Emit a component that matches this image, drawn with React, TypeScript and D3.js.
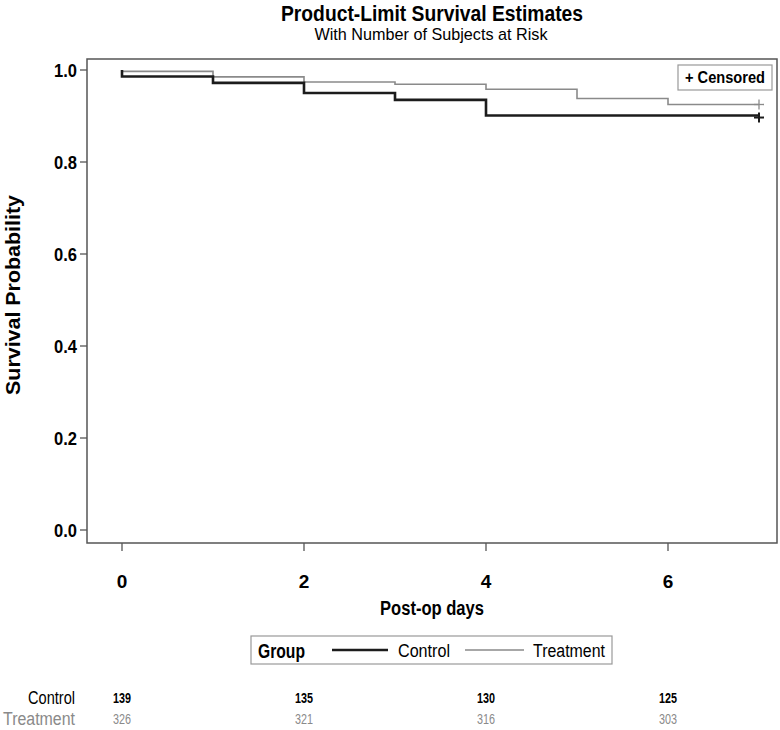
import React from "react";
import * as d3 from "d3";

// Kaplan-Meier step values
const days = [0, 1, 2, 3, 4, 5, 6, 7];
const controlSurv = [0.986, 0.972, 0.95, 0.935, 0.901, 0.901, 0.901, 0.901];
const treatmentSurv = [0.997, 0.985, 0.974, 0.969, 0.958, 0.938, 0.925, 0.925];

// number at risk table
const riskDays = [0, 2, 4, 6];
const controlRisk = [139, 135, 130, 125];
const treatmentRisk = [326, 321, 316, 303];

const yTicks = [0, 0.2, 0.4, 0.6, 0.8, 1.0];
const xTicks = [0, 2, 4, 6];

const W = 780, H = 730;
const frame = { left: 87, right: 777, top: 59, bottom: 543 };
const FONT = "'Liberation Sans', Arial, sans-serif";
const CONTROL_COLOR = "#1c1c1c";
const TREAT_COLOR = "#8a8a8a";

// the original uses a condensed font; squeeze text to the measured widths
const fit = (len: number) => ({ textLength: len, lengthAdjust: "spacingAndGlyphs" as const });

export default function App() {
  const x = d3.scaleLinear().domain([0, 7]).range([122, 759]);
  const y = d3.scaleLinear().domain([0, 1]).range([530, 70]);

  const line = d3.line<[number, number]>()
    .x(d => x(d[0]))
    .y(d => y(d[1]))
    .curve(d3.curveStepAfter);

  // curves start at 1.0 at time 0 then drop
  const controlPts: [number, number][] = [[0, 1], ...days.map((d, i) => [d, controlSurv[i]] as [number, number])];
  const treatPts: [number, number][] = [[0, 1], ...days.map((d, i) => [d, treatmentSurv[i]] as [number, number])];

  const last = days.length - 1;
  const plus = (cx: number, cy: number, color: string, w: number) => (
    <g stroke={color} strokeWidth={w}>
      <line x1={cx - 5} x2={cx + 5} y1={cy} y2={cy} />
      <line x1={cx} x2={cx} y1={cy - 5} y2={cy + 5} />
    </g>
  );

  return (
    <svg width={W} height={H} style={{ position: "absolute", left: 0, top: 0, background: "#fff" }}
      fontFamily={FONT}>
      {/* titles */}
      <text x={432} y={21} textAnchor="middle" fontSize={22} fontWeight="bold" {...fit(302)}>Product-Limit Survival Estimates</text>
      <text x={431} y={40} textAnchor="middle" fontSize={17} {...fit(233)}>With Number of Subjects at Risk</text>

      {/* frame */}
      <rect x={frame.left} y={frame.top} width={frame.right - frame.left} height={frame.bottom - frame.top}
        fill="none" stroke="#555" strokeWidth={1.5} />

      {/* y axis */}
      {yTicks.map(t => (
        <g key={t}>
          <line x1={frame.left - 7} x2={frame.left} y1={y(t)} y2={y(t)} stroke="#555" strokeWidth={1.3} />
          <text x={frame.left - 10} y={y(t)} dy="0.36em" textAnchor="end" fontSize={19} fontWeight="bold" {...fit(23)}>
            {d3.format(".1f")(t)}
          </text>
        </g>
      ))}
      <text transform={`translate(20, 295) rotate(-90)`} textAnchor="middle"
        fontSize={20} fontWeight="bold" {...fit(200)}>Survival Probability</text>

      {/* x axis */}
      {xTicks.map(t => (
        <g key={t}>
          <line x1={x(t)} x2={x(t)} y1={frame.bottom} y2={frame.bottom + 8} stroke="#555" strokeWidth={1.3} />
          <text x={x(t)} y={588} textAnchor="middle" fontSize={19} fontWeight="bold">{t}</text>
        </g>
      ))}
      <text x={432} y={615} textAnchor="middle" fontSize={20} fontWeight="bold" {...fit(104)}>Post-op days</text>

      {/* curves */}
      <path d={line(treatPts) || ""} fill="none" stroke={TREAT_COLOR} strokeWidth={1.6} />
      <path d={line(controlPts) || ""} fill="none" stroke={CONTROL_COLOR} strokeWidth={2.6} />
      {plus(x(days[last]), y(treatmentSurv[last]), TREAT_COLOR, 1.3)}
      {plus(x(days[last]), y(controlSurv[last]) + 2, CONTROL_COLOR, 2)}

      {/* censored legend */}
      <rect x={678} y={65} width={94} height={25} fill="#fff" stroke="#999" strokeWidth={1.2} />
      <text x={685} y={83} fontSize={16} fontWeight="bold" {...fit(80)}>+ Censored</text>

      {/* group legend */}
      <rect x={251} y={636} width={361} height={28} fill="#fff" stroke="#999" strokeWidth={1.2} />
      <text x={258} y={658} fontSize={20} fontWeight="bold" {...fit(47)}>Group</text>
      <line x1={332} x2={388} y1={650} y2={650} stroke={CONTROL_COLOR} strokeWidth={2.6} />
      <text x={398} y={657} fontSize={18} {...fit(52)}>Control</text>
      <line x1={465} x2={524} y1={650} y2={650} stroke={TREAT_COLOR} strokeWidth={1.6} />
      <text x={533} y={657} fontSize={18} {...fit(72)}>Treatment</text>

      {/* at-risk table */}
      <text x={75} y={704} textAnchor="end" fontSize={18} {...fit(47)}>Control</text>
      <text x={75} y={725} textAnchor="end" fontSize={18} fill={TREAT_COLOR} {...fit(72)}>Treatment</text>
      {riskDays.map((d, i) => (
        <g key={d}>
          <text x={x(d)} y={703} textAnchor="middle" fontSize={14} fontWeight="bold" {...fit(18)}>{controlRisk[i]}</text>
          <text x={x(d)} y={724} textAnchor="middle" fontSize={14} fill={TREAT_COLOR} {...fit(18)}>{treatmentRisk[i]}</text>
        </g>
      ))}
    </svg>
  );
}
